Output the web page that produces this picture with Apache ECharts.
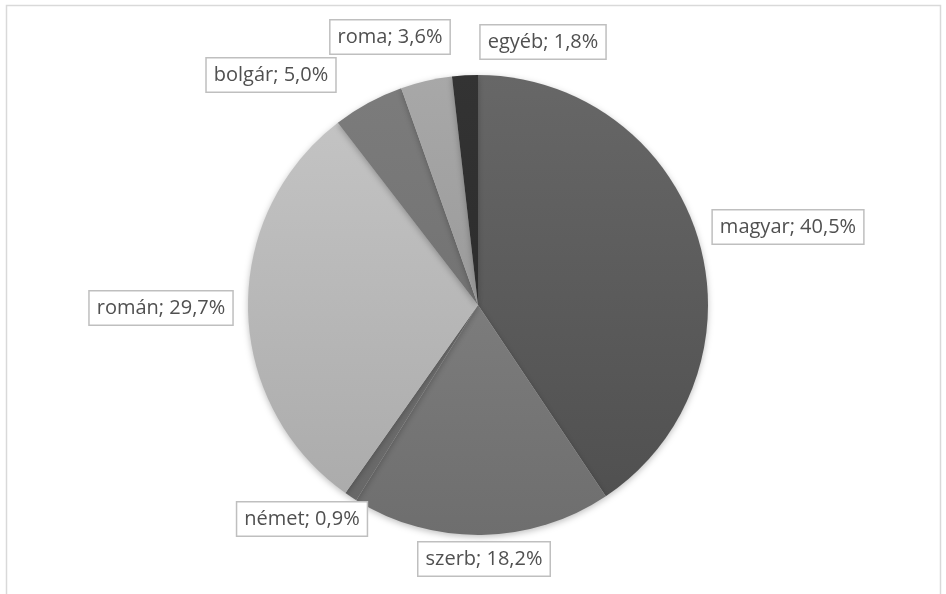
<!DOCTYPE html>
<html>
<head>
<meta charset="utf-8">
<script src="https://cdn.jsdelivr.net/npm/echarts@6/dist/echarts.min.js"></script>
<style>html,body{margin:0;padding:0;background:#fff;}#c{width:946px;height:594px;}</style>
</head>
<body>
<div id="c"></div>
<script>
const categories = ['magyar', 'szerb', 'német', 'román', 'bolgár', 'roma', 'egyéb'];
const values = [40.5, 18.2, 0.9, 29.7, 5.0, 3.6, 1.8];
const topColors = ['#676767', '#8a8a8a', '#7a7a7a', '#c6c6c6', '#7c7c7c', '#a8a8a8', '#333333'];
const bottomColors = ['#4e4e4e', '#6e6e6e', '#666666', '#a9a9a9', '#6a6a6a', '#8e8e8e', '#262626'];
// label box centres (layout only)
const labelPos = [[788, 227], [484, 559], [302, 519], [161, 308], [271, 75], [390, 37], [543, 42]];

const chart = echarts.init(document.getElementById('c'), null, {renderer: 'canvas'});
chart.setOption({
  animation: false,
  graphic: [{
    type: 'rect',
    shape: {x: 6.5, y: 5.5, width: 934, height: 620},
    style: {fill: 'none', stroke: '#d9d9d9', lineWidth: 1.5}
  }],
  series: [{
    type: 'pie',
    center: [478, 305],
    radius: [0, 230],
    startAngle: 90,
    clockwise: true,
    data: categories.map((c, i) => ({
      name: c, value: values[i],
      itemStyle: {color: new echarts.graphic.LinearGradient(0, 75, 0, 535, [
        {offset: 0, color: topColors[i]}, {offset: 1, color: bottomColors[i]}], true)}
    })),
    itemStyle: {borderWidth: 0, shadowBlur: 6, shadowColor: 'rgba(0,0,0,0.25)', shadowOffsetY: 2},
    label: {
      show: true,
      formatter: p => p.name + '; ' + p.value.toFixed(1).replace('.', ',') + '%',
      fontFamily: 'Open Sans',
      fontSize: 20,
      color: '#505050',
      backgroundColor: '#fff',
      borderColor: '#bfbfbf',
      borderWidth: 1.5,
      padding: [7, 7, 6, 7]
    },
    labelLine: {show: false},
    labelLayout: p => ({x: labelPos[p.dataIndex][0], y: labelPos[p.dataIndex][1], align: 'center', verticalAlign: 'middle'}),
    emphasis: {disabled: true}
  }]
});
</script>
</body>
</html>
